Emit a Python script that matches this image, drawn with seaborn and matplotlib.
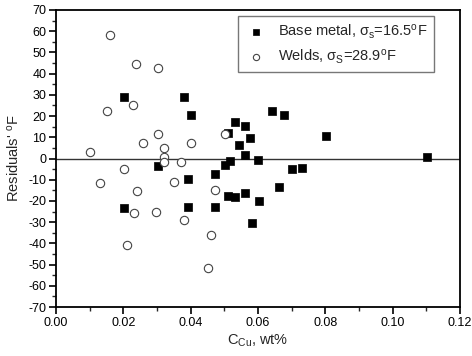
import matplotlib
matplotlib.use("Agg")
import matplotlib.pyplot as plt
from matplotlib.ticker import MultipleLocator, FormatStrFormatter
import seaborn as sns
import pandas as pd

base_x = [0.0202, 0.0302, 0.0201, 0.0381, 0.0402, 0.0512, 0.0532, 0.0561, 0.0576, 0.0544,
          0.0561, 0.0599, 0.0518, 0.0501, 0.0642, 0.0678, 0.0802, 0.1101, 0.0701, 0.0732,
          0.0662, 0.0392, 0.0471, 0.0512, 0.0532, 0.0561, 0.0602, 0.0392, 0.0471, 0.0582]
base_y = [29.0, -3.7, -23.5, 28.9, 20.5, 12.2, 17.2, 15.3, 9.7, 6.2,
          1.6, -0.5, -1.3, -2.9, 22.4, 20.4, 10.6, 0.8, -5.1, -4.6,
          -13.6, -9.7, -7.3, -17.5, -18.3, -16.3, -20.0, -22.7, -22.7, -30.3]

weld_x = [0.0161, 0.0238, 0.0302, 0.0228, 0.0151, 0.0302, 0.0258, 0.0101, 0.0320, 0.0320,
          0.0320, 0.0372, 0.0402, 0.0501, 0.0201, 0.0132, 0.0241, 0.0232, 0.0298, 0.0212,
          0.0351, 0.0471, 0.0381, 0.0460, 0.0452]
weld_y = [58.1, 44.4, 42.7, 25.2, 22.4, 11.7, 7.2, 2.9, 5.1, 0.6,
          -1.8, -1.8, 7.2, 11.7, -4.9, -11.7, -15.3, -25.7, -25.1, -40.9,
          -10.9, -14.9, -29.1, -36.2, -51.8]

base_label = r"Base metal, $\sigma_s$=16.5$^o$F"
weld_label = r"Welds, $\sigma_S$=28.9$^o$F"

sns.set_style("ticks")
plt.rcParams['font.family'] = ['Liberation Sans', 'DejaVu Sans']
plt.rcParams['mathtext.fontset'] = 'custom'
plt.rcParams['mathtext.rm'] = 'Liberation Sans'
plt.rcParams['mathtext.it'] = 'Liberation Sans'
plt.rcParams['axes.unicode_minus'] = False

fig = plt.figure(figsize=(4.72, 3.56), dpi=100)
ax = fig.add_axes([56/472, 1-307/356, 404/472, 297/356])

df_b = pd.DataFrame({"x": base_x, "y": base_y})
df_w = pd.DataFrame({"x": weld_x, "y": weld_y})

ax.axhline(0, color="#333333", lw=1.0, zorder=1)
sns.scatterplot(data=df_b, x="x", y="y", ax=ax, marker="s", s=28, color="black",
                edgecolor="black", linewidth=0.5, label=base_label, zorder=3)
sns.scatterplot(data=df_w, x="x", y="y", ax=ax, marker="o", s=36, facecolor="white",
                edgecolor="#444444", linewidth=0.8, label=weld_label, zorder=3)

ax.set_xlim(0, 0.12)
ax.set_ylim(-70, 70)
ax.xaxis.set_major_locator(MultipleLocator(0.02))
ax.xaxis.set_minor_locator(MultipleLocator(0.01))
ax.yaxis.set_major_locator(MultipleLocator(10))
ax.yaxis.set_minor_locator(MultipleLocator(5))
ax.xaxis.set_major_formatter(FormatStrFormatter("%.2f"))
ax.tick_params(which="major", direction="out", length=5, width=1.2, labelsize=9,
               colors="black", pad=2)
ax.tick_params(which="minor", direction="out", length=3, width=1.0)
ax.tick_params(top=False, right=False, which="both")
for sp in ax.spines.values():
    sp.set_visible(True)
    sp.set_linewidth(1.3)
    sp.set_color("black")

ax.set_xlabel(r"C$_{Cu}$, wt%", fontsize=10.5, labelpad=3)
ax.set_ylabel("Residuals' $^o$F", fontsize=10.5, labelpad=5)

leg = ax.legend(loc="upper right", bbox_to_anchor=(1 - 26/404, 1 - 5.7/297),
                frameon=True, fancybox=False, edgecolor="#555555", fontsize=10.5,
                handletextpad=0.7, borderpad=0.45, labelspacing=0.45, handlelength=1.6,
                borderaxespad=0, markerscale=0.75)
leg.get_frame().set_linewidth(1.0)

fig.savefig("out.png", dpi=100)
